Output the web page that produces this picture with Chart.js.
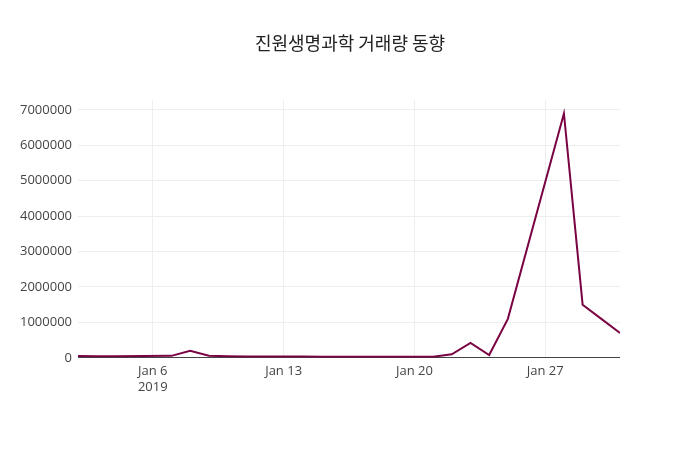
<!DOCTYPE html>
<html>
<head>
<meta charset="utf-8">
<script src="https://cdn.jsdelivr.net/npm/chart.js@4"></script>
<style>
  body { margin: 0; background: #fff; }
  #wrap { width: 700px; height: 450px; }
</style>
</head>
<body>
<div id="wrap"><canvas id="chart"></canvas></div>
<script>
// day of January 2019 (trading days) and volume
const days = [2, 3, 4, 7, 8, 9, 10, 11, 14, 15, 16, 17, 18, 21, 22, 23, 24, 25, 28, 29, 30, 31];
const volumes = [50000, 45000, 45000, 55000, 200000, 60000, 45000, 40000, 35000, 30000, 30000, 30000, 30000, 30000, 100000, 420000, 80000, 1100000, 6900000, 1500000, 1100000, 700000];
const tickDays = [6, 13, 20, 27];
const tickLabels = [["Jan 6", "2019"], "Jan 13", "Jan 20", "Jan 27"];
const yTicks = [0, 1000000, 2000000, 3000000, 4000000, 5000000, 6000000, 7000000];
const titleText = "진원생명과학 거래량 동향";

const pageTitle = {
    id: "pageTitle",
    afterDraw(chart) {
        const c = chart.ctx;
        c.save();
        c.font = "18px 'Noto Sans CJK KR'";
        c.fillStyle = "#222";
        c.textAlign = "center";
        c.textBaseline = "middle";
        c.fillText(titleText, 350, 43);
        c.restore();
    }
};

const ctx = document.getElementById("chart").getContext("2d");
new Chart(ctx, {
    type: "line",
    data: {
        datasets: [{
            data: days.map((d, i) => ({ x: d, y: volumes[i] })),
            borderColor: "#7a0443",
            borderWidth: 2,
            pointRadius: 0,
            tension: 0
        }]
    },
    options: {
        responsive: true,
        maintainAspectRatio: false,
        animation: false,
        layout: { padding: { left: 14, right: 80, top: 100, bottom: 49 } },
        plugins: {
            legend: { display: false },
            tooltip: { enabled: false },
            title: { display: false }
        },
        scales: {
            x: {
                type: "linear",
                min: 2,
                max: 31,
                afterBuildTicks: axis => { axis.ticks = tickDays.map(v => ({ value: v })); },
                ticks: {
                    callback: (v) => tickLabels[tickDays.indexOf(v)],
                    font: { family: "Open Sans", size: 13 },
                    color: "#444",
                    maxRotation: 0,
                    padding: 6
                },
                grid: { color: "#eee", drawTicks: false },
                border: { display: false }
            },
            y: {
                min: 0,
                max: 7280000,
                afterBuildTicks: axis => { axis.ticks = yTicks.map(v => ({ value: v })); },
                ticks: {
                    callback: v => String(v),
                    font: { family: "Open Sans", size: 13 },
                    color: "#444",
                    padding: 6
                },
                grid: {
                    color: ctx => ctx.tick && ctx.tick.value === 0 ? "#444" : "#eee",
                    drawTicks: false
                },
                border: { display: false }
            }
        }
    },
    plugins: [pageTitle]
});
</script>
</body>
</html>
